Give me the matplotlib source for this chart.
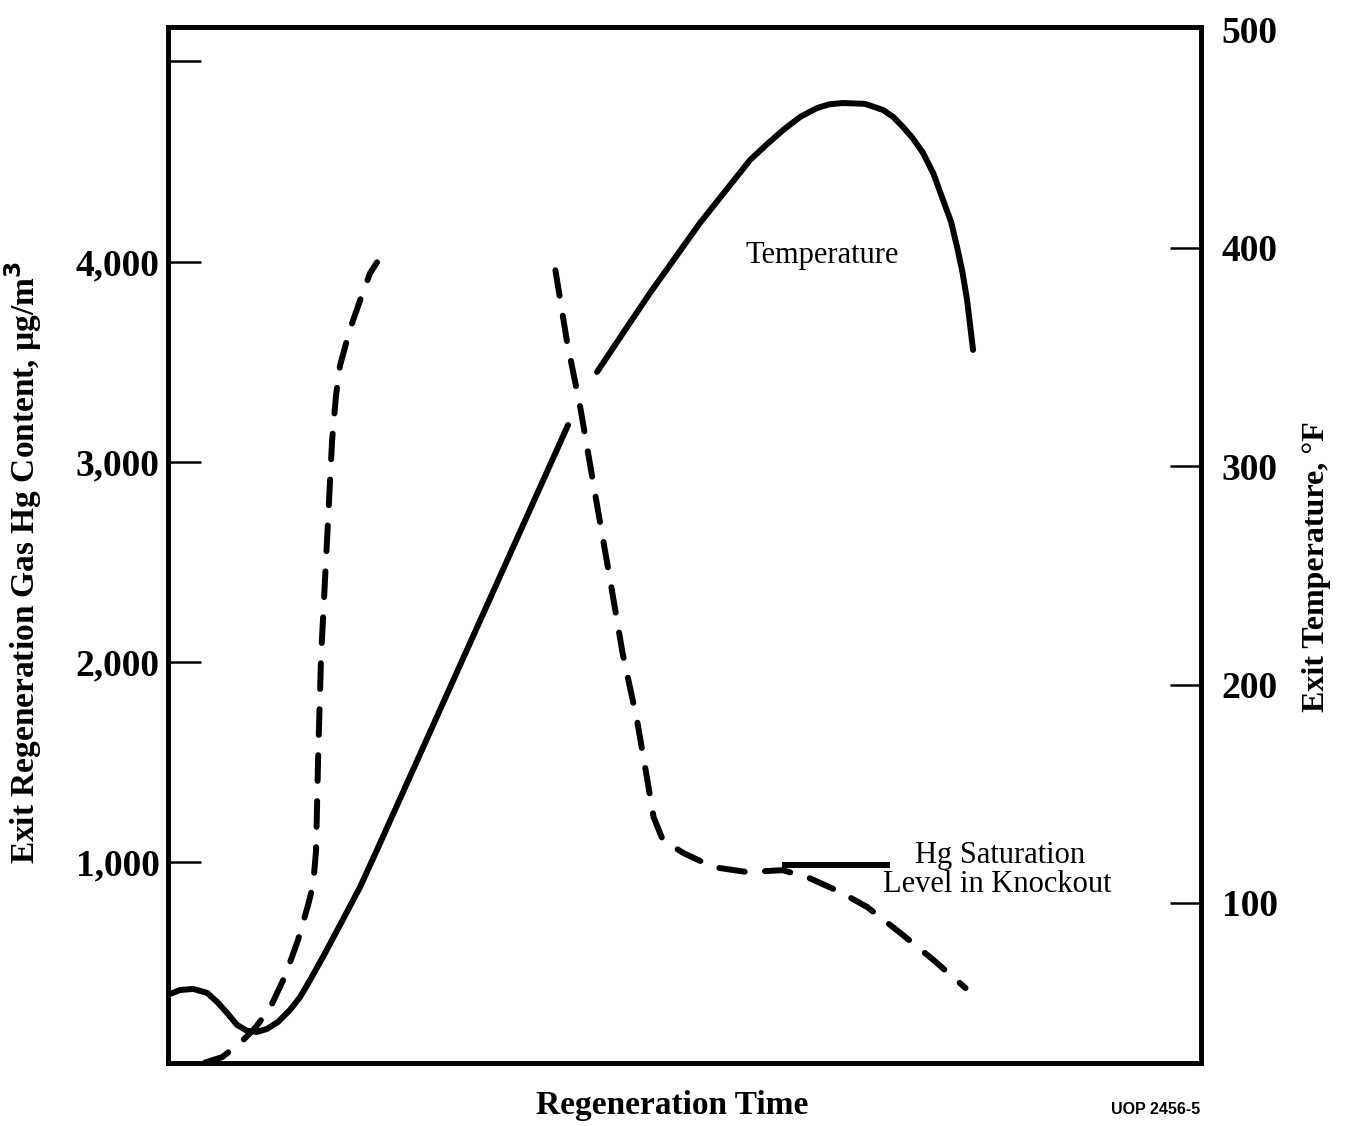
"""
Exit regeneration gas Hg content and exit temperature vs regeneration time.
"""
import matplotlib
matplotlib.use("Agg")
import matplotlib.pyplot as plt

plt.rcParams["font.family"] = ["Liberation Serif", "DejaVu Serif"]

# Temperature, degF (right axis) - the curve is broken where the Hg curve crosses it
TEMP_T1 = [0.0, 1.16, 2.42, 3.78, 4.74, 5.71, 6.68, 7.65, 8.62, 9.58, 10.65,
           11.81, 12.78, 13.75, 15.0, 16.65, 18.59, 20.23, 38.72]
TEMP_V1 = [57.9, 60.1, 60.6, 58.8, 54.7, 49.6, 44.1, 41.4, 40.9, 42.3, 45.5,
           51.0, 56.9, 64.7, 75.3, 89.9, 107.3, 124.3, 318.9]
TEMP_T2 = [41.53, 44.24, 46.66, 51.5, 56.34, 58.0, 59.54, 61.18, 62.83, 64.0,
           65.34, 67.47, 69.22, 70.2, 71.15, 72.1, 73.09, 74.1, 75.02, 75.8,
           76.38, 76.9, 77.35, 77.93]
TEMP_V2 = [343.2, 362.4, 379.4, 411.5, 440.3, 447.6, 454.0, 460.0, 464.1, 465.8,
           466.4, 466.0, 463.2, 460.0, 455.4, 450.2, 443.5, 434.0, 422.0, 412.0,
           400.5, 389.0, 376.2, 353.3]

# Hg content, ug/m3 (left axis)
HG_T1 = [3.58, 5.23, 6.97, 8.42, 9.87, 11.33, 12.58, 13.55, 14.04, 14.33, 14.52,
         14.81, 15.39, 15.88, 16.26, 16.65, 17.23, 17.81, 18.59, 19.55, 20.23]
HG_V1 = [0, 27, 97, 172, 272, 432, 612, 786, 886, 1061, 1510,
         2025, 2609, 3108, 3333, 3482, 3592, 3692, 3807, 3942, 3997]
HG_T2 = [37.5, 38.6, 39.9, 41.5, 42.8, 44.0, 45.4, 46.4, 47.0, 47.9, 49.9,
         52.8, 56.1, 59.5, 62.1, 65.1, 67.7, 70.9, 74.1, 77.2]
HG_V2 = [3957, 3607, 3273, 2793, 2409, 2045, 1710, 1410, 1226, 1111, 1046,
         976, 951, 961, 921, 851, 776, 647, 512, 372]

# saturation level in the knockout drum
SAT_T = [59.7, 69.6]
SAT_V = [986, 986]

HG_TICKS = [1000, 2000, 3000, 4000, 5000]
HG_LABELS = ["1,000", "2,000", "3,000", "4,000", ""]
TEMP_TICKS = [100, 200, 300, 400, 500]


def main():
    fig = plt.figure(figsize=(13.51, 11.26), dpi=100)
    ax = fig.add_axes([0.1244, 0.056, 0.7646, 0.920])
    ax2 = ax.twinx()

    lw = 4.3
    dash = dict(linestyle=(0, (4.3, 3.4)), dash_capstyle="round", color="black", linewidth=lw)

    ax2.plot(TEMP_T1, TEMP_V1, color="black", linewidth=lw, solid_capstyle="round")
    ax2.plot(TEMP_T2, TEMP_V2, color="black", linewidth=lw, solid_capstyle="round")

    ax.plot(HG_T1, HG_V1, **dash)
    ax.plot(HG_T2, HG_V2, **dash)
    ax.plot(SAT_T, SAT_V, color="black", linewidth=lw)

    ax.set_xlim(0, 100)
    ax.set_ylim(-2, 5172)
    ax2.set_ylim(26.7, 501.2)

    ax.set_xticks([])
    ax.set_yticks(HG_TICKS)
    ax.set_yticklabels(HG_LABELS)
    ax2.set_yticks(TEMP_TICKS)

    ax.tick_params(axis="y", direction="in", length=24, width=1.8, pad=6,
                   labelsize=27)
    ax2.tick_params(axis="y", direction="in", length=22, width=1.8, pad=15,
                    labelsize=27)
    # the 500 tick sits on the top corner, only its label shows
    ax2.yaxis.get_major_ticks()[-1].tick2line.set_visible(False)
    for a in (ax, ax2):
        for lab in a.get_yticklabels():
            lab.set_fontweight("bold")
        for sp in a.spines.values():
            sp.set_linewidth(3.3)

    ax.set_xlabel("Regeneration Time", fontsize=24, fontweight="bold")
    ax.xaxis.set_label_coords(0.488, -0.026)
    ax.set_ylabel("Exit Regeneration Gas Hg Content, µg/m$^\\mathbf{3}$",
                  fontsize=24, fontweight="bold")
    ax.yaxis.set_label_coords(-0.12, 0.4836)
    ax2.set_ylabel("Exit Temperature, °F", fontsize=23, fontweight="bold")
    ax2.yaxis.set_label_coords(1.0977, 0.479)

    ax.text(63.3, 4031, "Temperature", fontsize=22, ha="center", va="center")
    ax.text(80.5, 1036, "Hg Saturation", fontsize=22, ha="center", va="center")
    ax.text(80.3, 891, "Level in Knockout", fontsize=22, ha="center", va="center")

    fig.text(1200 / 1351, 1 - 1110 / 1126, "UOP 2456-5", fontsize=11.5,
             fontweight="bold", family=["Liberation Sans", "DejaVu Sans"],
             ha="right", va="center")

    fig.savefig("out.png", dpi=100)


if __name__ == "__main__":
    main()
